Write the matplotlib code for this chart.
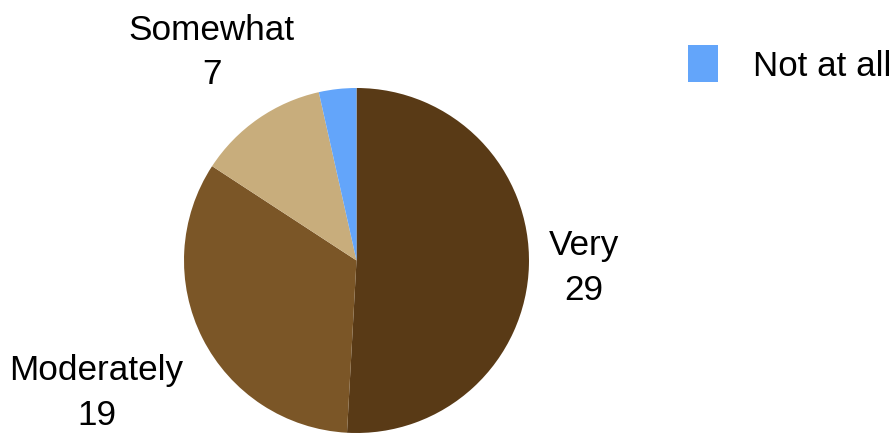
import matplotlib.pyplot as plt
import numpy as np

plt.rcParams["font.family"] = ["Liberation Sans", "DejaVu Sans"]

labels = ["Very", "Moderately", "Somewhat", "Not at all"]
counts = [29, 19, 7, 2]
colors = ["#593A16", "#7B5627", "#C8AD7C", "#63A5FA"]

# how far out each value label sits (in pie radii); None = legend only
label_dist = [1.32, 1.69, 1.475, None]

fig = plt.figure(figsize=(8.91, 4.35), dpi=100)
ax = fig.add_axes([184 / 891, 1 / 435, 345 / 891, 345 / 435])

wedges, _ = ax.pie(
    counts,
    colors=colors,
    startangle=90,
    counterclock=False,
    radius=1,
    wedgeprops=dict(linewidth=0),
)
ax.set_xlim(-1, 1)
ax.set_ylim(-1, 1)
ax.set_aspect("equal")

for w, lab, n, d in zip(wedges, labels, counts, label_dist):
    if d is None:
        continue
    ang = np.deg2rad((w.theta1 + w.theta2) / 2)
    ax.text(
        d * np.cos(ang),
        d * np.sin(ang),
        "{}\n{}".format(lab, n),
        ha="center",
        va="center",
        fontsize=25.3,
        linespacing=1.45,
        clip_on=False,
    )

fig.legend(
    [wedges[3]],
    [labels[3]],
    loc="upper left",
    bbox_to_anchor=(688 / 891, 1 - 46 / 435),
    frameon=False,
    fontsize=25.1,
    handlelength=0.86,
    handleheight=1.26,
    handletextpad=1.0,
    borderpad=0,
    borderaxespad=0,
)

fig.savefig("out.png", dpi=100)
